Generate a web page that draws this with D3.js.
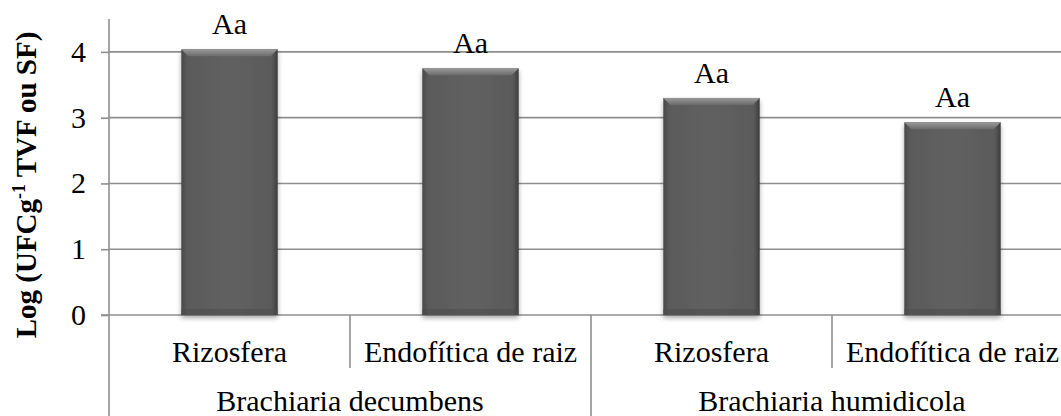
<!DOCTYPE html>
<html><head><meta charset="utf-8">
<script src="https://cdn.jsdelivr.net/npm/d3@7"></script>
<style>
html,body{margin:0;padding:0;background:#fff;}
svg text{font-family:"Liberation Serif","Times New Roman",serif;fill:#000;}
</style></head>
<body>
<svg id="c" width="1061" height="416"></svg>
<script>
const categories = ["Rizosfera","Endofítica de raiz","Rizosfera","Endofítica de raiz"];
const groups = ["Brachiaria decumbens","Brachiaria humidicola"];
const values = [4.04, 3.75, 3.30, 2.93];
const barLabels = ["Aa","Aa","Aa","Aa"];
const yTicks = [0,1,2,3,4];

(function(){
const svg = d3.select("#c");
const left = 109, bottom = 315, plotTop = 19, step = 241;
const fs = 30;
const x = d3.scaleBand().domain(d3.range(categories.length)).range([left, left + step*categories.length]).paddingInner(0.6).paddingOuter(0.3);
const y = d3.scaleLinear().domain([0,4.5]).range([bottom, plotTop]);
const grid = "#8f8f8f";

const defs = svg.append("defs");
const g1 = defs.append("linearGradient").attr("id","body").attr("x1",0).attr("x2",1).attr("y1",0).attr("y2",0);
[[0,"#484848"],[0.06,"#5a5a5a"],[0.5,"#616161"],[0.94,"#5a5a5a"],[1,"#3c3c3c"]].forEach(s=>g1.append("stop").attr("offset",s[0]).attr("stop-color",s[1]));
const g2 = defs.append("linearGradient").attr("id","bev").attr("x1",0).attr("x2",0).attr("y1",0).attr("y2",1);
[[0,"#9a9a9a"],[1,"#6a6a6a"]].forEach(s=>g2.append("stop").attr("offset",s[0]).attr("stop-color",s[1]));
const f = defs.append("filter").attr("id","sh").attr("x","-20%").attr("y","-10%").attr("width","140%").attr("height","130%");
f.append("feGaussianBlur").attr("in","SourceAlpha").attr("stdDeviation",2.5).attr("result","b");
f.append("feOffset").attr("in","b").attr("dx",0).attr("dy",3).attr("result","o");
f.append("feComponentTransfer").attr("in","o").attr("result","o2").append("feFuncA").attr("type","linear").attr("slope",0.35);
const m = f.append("feMerge"); m.append("feMergeNode").attr("in","o2"); m.append("feMergeNode").attr("in","SourceGraphic");

// gridlines
svg.append("g").selectAll("line").data(yTicks.filter(d=>d>0)).join("line")
  .attr("x1",left).attr("x2",1061).attr("y1",d=>y(d)).attr("y2",d=>y(d))
  .attr("stroke",grid).attr("stroke-width",1.6);

// y axis
const ya = svg.append("g").attr("transform",`translate(${left},0)`).call(d3.axisLeft(y).tickValues(yTicks).tickSize(8).tickFormat(""));
ya.select(".domain").remove();
ya.selectAll("line").attr("stroke",grid).attr("stroke-width",1.6);
svg.append("line").attr("x1",left).attr("x2",left).attr("y1",plotTop).attr("y2",416).attr("stroke",grid).attr("stroke-width",1.6);
svg.append("line").attr("x1",left-8).attr("x2",1061).attr("y1",bottom).attr("y2",bottom).attr("stroke",grid).attr("stroke-width",1.6);

svg.append("g").selectAll("text").data(yTicks).join("text")
  .attr("x",86).attr("y",d=>y(d)+10)
  .attr("text-anchor","end").attr("font-size",fs).text(d=>d);

// category separators
const sepX = i => x(i) - x.step()*x.paddingInner()/2;
svg.append("g").selectAll("line").data([1,3]).join("line")
  .attr("x1",d=>sepX(d)).attr("x2",d=>sepX(d)).attr("y1",bottom).attr("y2",368)
  .attr("stroke",grid).attr("stroke-width",1.6);
svg.append("line").attr("x1",sepX(2)).attr("x2",sepX(2)).attr("y1",bottom).attr("y2",416)
  .attr("stroke",grid).attr("stroke-width",1.6);

// bars
const bars = svg.append("g").selectAll("g").data(values).join("g").attr("filter","url(#sh)");
bars.append("rect").attr("x",(d,i)=>x(i)).attr("y",d=>y(d)).attr("width",x.bandwidth()).attr("height",d=>bottom-y(d)).attr("fill","url(#body)");
bars.append("path").attr("fill","url(#bev)").attr("d",(d,i)=>{
  const x0=x(i), x1=x(i)+x.bandwidth(), t=y(d), b=7;
  return `M${x0},${t}L${x1},${t}L${x1-b},${t+b}L${x0+b},${t+b}Z`;
});
bars.append("rect").attr("x",(d,i)=>x(i)).attr("y",bottom-6).attr("width",x.bandwidth()).attr("height",6).attr("fill","#4c4c4c").attr("opacity",0.6);

// bar labels
svg.append("g").selectAll("text").data(values).join("text")
  .attr("x",(d,i)=>x(i)+x.bandwidth()/2).attr("y",d=>y(d)-15)
  .attr("text-anchor","middle").attr("font-size",fs).text((d,i)=>barLabels[i]);

// category labels
svg.append("g").selectAll("text").data(categories).join("text")
  .attr("x",(d,i)=>x(i)+x.bandwidth()/2).attr("y",362)
  .attr("text-anchor","middle").attr("font-size",fs).text(d=>d);

// group labels
svg.append("g").selectAll("text").data(groups).join("text")
  .attr("x",(d,i)=>(x(2*i)+x(2*i+1)+x.bandwidth())/2).attr("y",411)
  .attr("text-anchor","middle").attr("font-size",fs).text(d=>d);

// y title
const tt = svg.append("text").attr("transform",`translate(36,185) rotate(-90)`)
  .attr("text-anchor","middle").attr("font-size",29).attr("font-weight","bold");
tt.append("tspan").text("Log (UFCg");
tt.append("tspan").attr("font-size",18).attr("dy",-11).text("-1");
tt.append("tspan").attr("dy",11).text(" TVF ou SF)");
})();
</script>
</body></html>
